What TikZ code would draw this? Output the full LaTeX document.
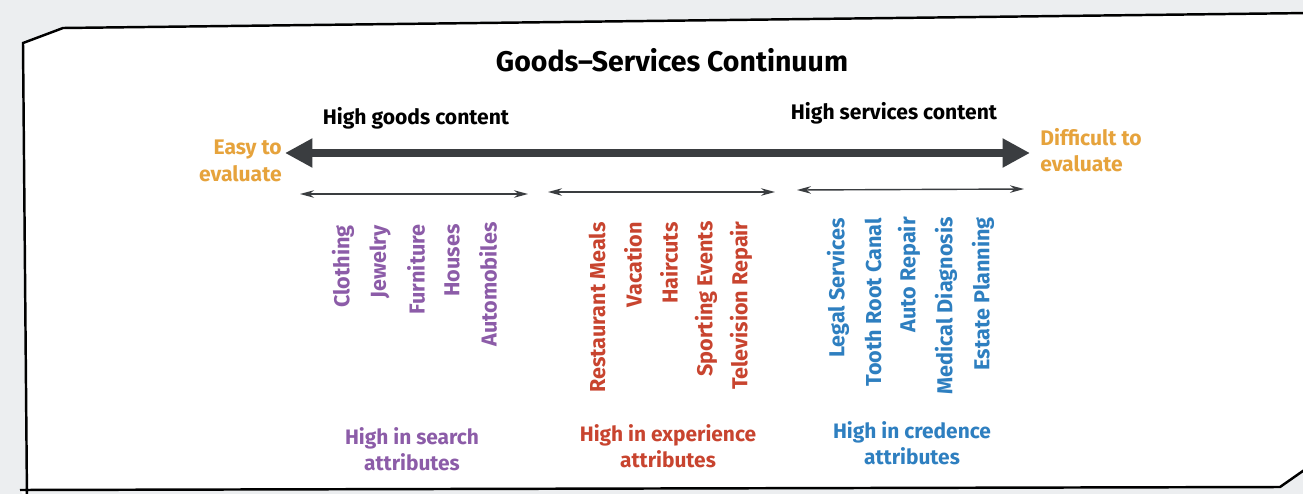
\documentclass[tikz,border=0pt]{standalone}
\usepackage{fontspec}
\setmainfont{Fira Sans}
\usepackage{xcolor}
\definecolor{cgray}{RGB}{58,61,64}
\definecolor{corange}{RGB}{230,163,60}
\definecolor{cpurple}{RGB}{140,92,168}
\definecolor{cred}{RGB}{200,68,47}
\definecolor{cblue}{RGB}{46,127,192}
\definecolor{cpage}{RGB}{236,238,240}
\usetikzlibrary{arrows.meta,positioning}

\begin{document}
\begin{tikzpicture}[x=0.02cm, y=-0.02cm,
    title/.style={font=\fontsize{16.2}{19}\selectfont\bfseries, inner sep=0pt},
    head/.style={font=\fontsize{12}{15}\selectfont\bfseries, inner sep=0pt},
    ends/.style={font=\fontsize{12}{15}\selectfont\bfseries, text=corange, inner sep=0pt},
    item/.style={rotate=90, anchor=east, inner sep=0pt, font=\fontsize{12.3}{14}\selectfont\bfseries},
    attr/.style={font=\fontsize{11.9}{15}\selectfont\bfseries, align=center, inner sep=0pt},
    bigarr/.style={{Triangle[length=0.55cm, width=0.55cm]}-{Triangle[length=0.55cm, width=0.55cm]}, line width=4pt, cgray},
    arr/.style={{Stealth[length=0.28cm, width=0.15cm]}-{Stealth[length=0.28cm, width=0.15cm]}, line width=0.8pt, cgray}
  ]
    \useasboundingbox (0,0) rectangle (1303,494);
    \fill[cpage] (0,0) rectangle (1303,494);

    % frame with cut corners
    \filldraw[fill=white, draw=black, line width=1.4pt]
      (27,500) -- (23,43) -- (63,28) -- (1310,13) -- (1310,466) -- (1280,487) -- (20,490);

    \node[title] (title) at (672,60) {Goods--Services Continuum};
    \node[head] (goods) at (416,118) {High goods content};
    \node[head] (services) at (894,113) {High services content};

    \node[ends, align=right, anchor=east] (easy) at (282,161) {Easy to\\evaluate};
    \node[ends, align=left, anchor=west] (difficult) at (1040,150) {Difficult to\\evaluate};

    \coordinate (c1) at (285,153);
    \coordinate (c2) at (1030,153);
    \draw[bigarr] (c1) -- (c2);

    % three ranges
    \coordinate (a1) at (300,194);
    \coordinate (a2) at (528,194);
    \coordinate (b1) at (548,192);
    \coordinate (b2) at (775,192);
    \coordinate (d1) at (797,190);
    \coordinate (d2) at (1024,189);
    \draw[arr] (a1) -- (a2);
    \draw[arr] (b1) -- (b2);
    \draw[arr] (d1) -- (d2);

    % search goods
    \node[item, text=cpurple] (clothing) at (343,225) {Clothing};
    \node[item, text=cpurple] (jewelry) at (380,225) {Jewelry};
    \node[item, text=cpurple] (furniture) at (416,224) {Furniture};
    \node[item, text=cpurple] (houses) at (452,224) {Houses};
    \node[item, text=cpurple] (autos) at (488,222) {Automobiles};

    % experience goods
    \node[item, text=cred] (meals) at (597,222) {Restaurant Meals};
    \node[item, text=cred] (vacation) at (633,222) {Vacation};
    \node[item, text=cred] (haircuts) at (669,222) {Haircuts};
    \node[item, text=cred] (sports) at (706,221) {Sporting Events};
    \node[item, text=cred] (tv) at (741,221) {Television Repair};

    % credence goods
    \node[item, text=cblue] (legal) at (838,218) {Legal Services};
    \node[item, text=cblue] (tooth) at (873,218) {Tooth Root Canal};
    \node[item, text=cblue] (autorep) at (909,217) {Auto Repair};
    \node[item, text=cblue] (medical) at (946,217) {Medical Diagnosis};
    \node[item, text=cblue] (estate) at (983,217) {Estate Planning};

    \node[attr, text=cpurple] (search) at (412,449) {High in search\\attributes};
    \node[attr, text=cred] (experience) at (668,446) {High in experience\\attributes};
    \node[attr, text=cblue] (credence) at (912,443) {High in credence\\attributes};
  \end{tikzpicture}
\end{document}
